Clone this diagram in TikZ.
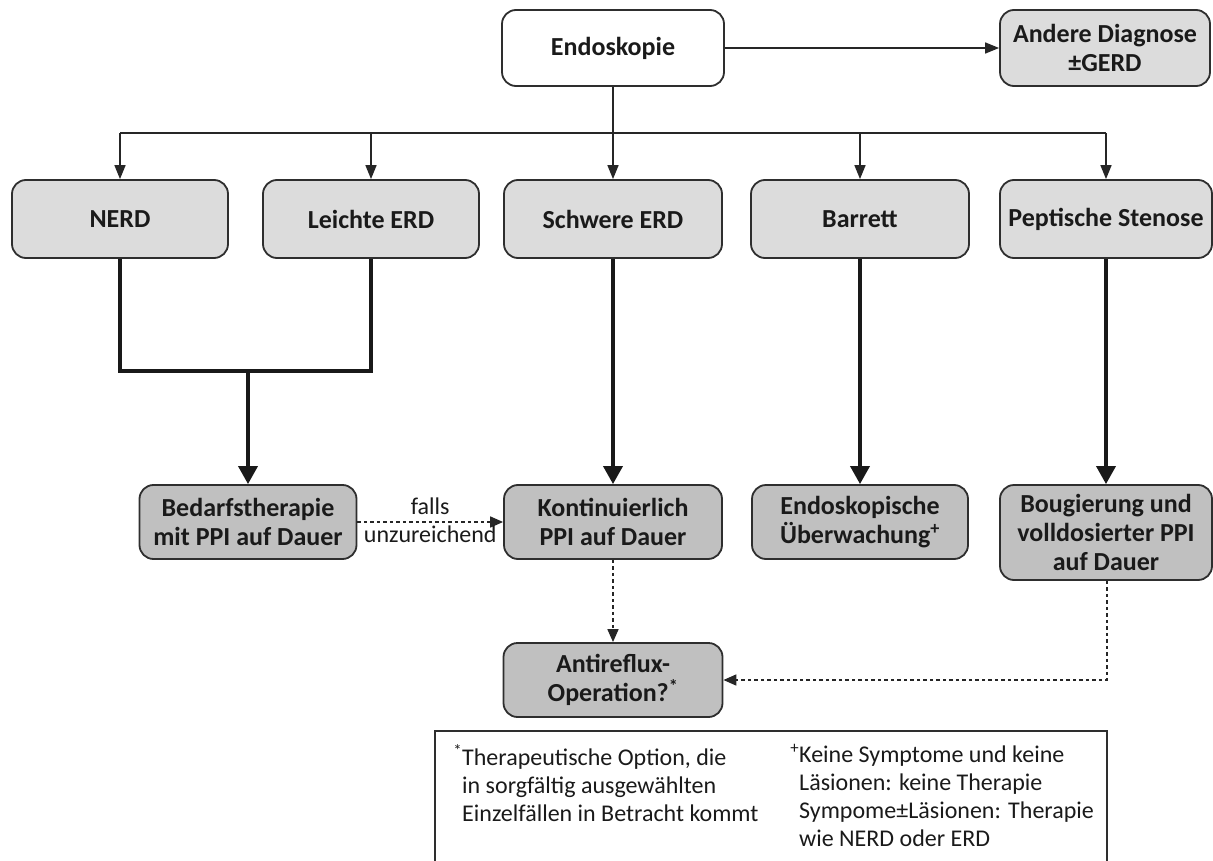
\documentclass[tikz,border=0pt]{standalone}
\usepackage{fontspec}
\setmainfont{Carlito}
\usetikzlibrary{arrows.meta}
\definecolor{boxline}{HTML}{2E2E2E}
\definecolor{lightfill}{HTML}{DCDCDC}
\definecolor{darkfill}{HTML}{C0C0C0}
\definecolor{txt}{HTML}{1A1A1A}
\tikzset{
  box/.style={draw=boxline, line width=1.8pt, rounded corners=14pt, align=center,
    text=txt, font=\fontsize{26}{29}\selectfont\bfseries, inner sep=0pt},
  whitebox/.style={box, fill=white},
  lightbox/.style={box, fill=lightfill},
  darkbox/.style={box, fill=darkfill},
  tline/.style={draw=black!85, line width=1.6pt},
  tarrow/.style={tline, -{Triangle[length=14pt,width=11pt]}},
  thickline/.style={draw=black!90, line width=3.6pt},
  thickarrow/.style={thickline, -{Triangle[length=18pt,width=19pt]}},
  dotline/.style={draw=black!85, line width=1.7pt, dash pattern=on 3.5pt off 3pt},
  dotarrow/.style={dotline, -{Triangle[length=13pt,width=11pt]}},
  note/.style={text=txt, font=\fontsize{24}{28}\selectfont, align=left, inner sep=0pt}
}
\begin{document}
\begin{tikzpicture}[x=1pt,y=-1pt]
\useasboundingbox (0,0) rectangle (1213,861);
% top row
\node[whitebox, minimum width=222pt, minimum height=76pt] (endo) at (613,48) {Endoskopie};
\node[lightbox, minimum width=210pt, minimum height=76pt] (andere) at (1105,48) {Andere Diagnose\\±GERD};
% second row
\node[lightbox, minimum width=216pt, minimum height=78pt] (nerd) at (120,219) {NERD};
\node[lightbox, minimum width=216pt, minimum height=78pt] (leicht) at (371,219) {Leichte ERD};
\node[lightbox, minimum width=218pt, minimum height=78pt] (schwer) at (613,219) {Schwere ERD};
\node[lightbox, minimum width=218pt, minimum height=78pt] (barrett) at (860,219) {Barrett};
\node[lightbox, minimum width=212pt, minimum height=78pt] (stenose) at (1106,219) {Peptische Stenose};
% third row
\node[darkbox, minimum width=217pt, minimum height=74pt] (bedarf) at (248,522) {Bedarfstherapie\\mit PPI auf Dauer};
\node[darkbox, minimum width=218pt, minimum height=74pt] (kont) at (613,522) {Kontinuierlich\\PPI auf Dauer};
\node[darkbox, minimum width=216pt, minimum height=74pt] (endosk) at (860,522) {Endoskopische\\Überwachung\textsuperscript{+}};
\node[darkbox, minimum width=212pt, minimum height=95pt] (boug) at (1106,532.5) {Bougierung und\\volldosierter PPI\\auf Dauer};
% fourth row
\node[darkbox, minimum width=219pt, minimum height=74pt] (anti) at (613,680) {Antireflux-\\Operation?\textsuperscript{*}};

% connectors top
\coordinate (bar) at (613,133);
\coordinate (join) at (0,371);
\draw[tarrow] (endo.east) -- (andere.west);
\draw[tline] (endo.south) -- (bar);
\draw[tline] (nerd.north |- bar) -- (stenose.north |- bar);
\foreach \n in {nerd,leicht,schwer,barrett,stenose}
  \draw[tarrow] (\n.north |- bar) -- (\n.north);
% thick connectors
\draw[thickline] (nerd.south) -- (nerd.south |- join) -- (leicht.south |- join) -- (leicht.south);
\draw[thickarrow] (bedarf.north |- join) -- (bedarf.north);
\draw[thickarrow] (schwer.south) -- (kont.north);
\draw[thickarrow] (barrett.south) -- (endosk.north);
\draw[thickarrow] (stenose.south) -- (boug.north);
% dotted connectors
\draw[dotarrow] (bedarf.east) -- (kont.west)
  node[midway, above=6pt, note, align=center] (falls) {falls}
  node[midway, below=3pt, note, align=center] (unz) {unzureichend};
\draw[dotarrow] (kont.south) -- (anti.north);
\coordinate (corner) at (1107,680);
\draw[dotarrow] (boug.south -| corner) -- (corner) -- (anti.east);

% footnote box
\draw[draw=boxline, line width=1.6pt] (435,861) -- (435,731) -- (1107,731) -- (1107,861);
\node[note, anchor=north west] (fnA) at (462,744)
  {\llap{\textsuperscript{*}}Therapeutische Option, die\\in sorgfältig ausgewählten\\Einzelfällen in Betracht kommt};
\node[note, anchor=north west] (fnB) at (799,744)
  {\llap{\textsuperscript{+}}Keine Symptome und keine\\Läsionen: keine Therapie\\Sympome±Läsionen: Therapie\\wie NERD oder ERD};
\end{tikzpicture}
\end{document}
